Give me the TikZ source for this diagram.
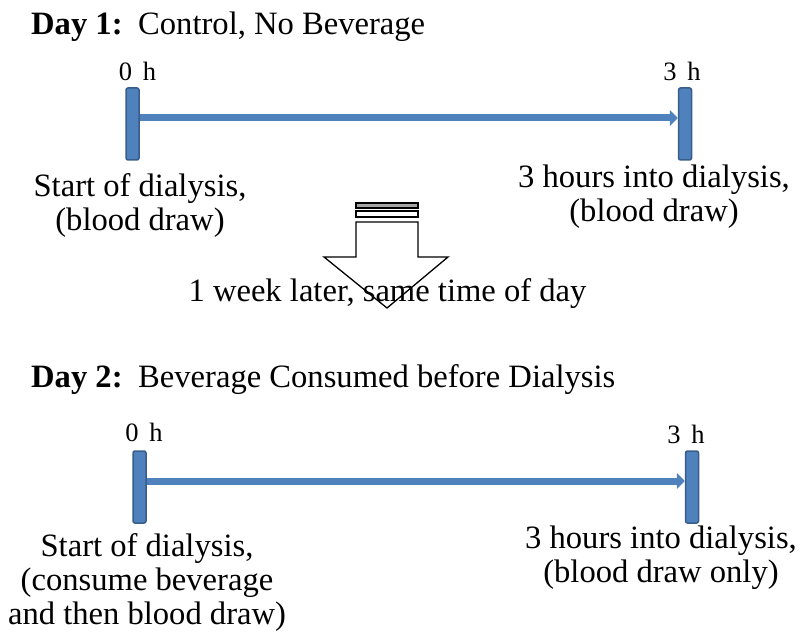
\documentclass[tikz,border=0pt]{standalone}
\usepackage{fontspec}
\setmainfont{Liberation Serif}
\usetikzlibrary{arrows.meta,positioning}
\definecolor{barblue}{RGB}{79,129,189}
\definecolor{bardark}{RGB}{56,93,138}

\tikzset{
  tick/.style={draw=bardark, fill=barblue, line width=1.5pt, rounded corners=2pt,
    minimum width=13pt, minimum height=72pt, inner sep=0pt},
  tline/.style={barblue, line width=7pt, -{Triangle[length=8pt,width=16pt]}},
  hlabel/.style={font=\fontsize{26.5}{30}\selectfont, inner sep=0pt},
  desc/.style={font=\fontsize{32.6}{34}\selectfont, align=center, inner sep=0pt},
  head/.style={font=\fontsize{32.6}{34}\selectfont, inner sep=0pt, anchor=base west},
}

\begin{document}
\begin{tikzpicture}[x=1pt,y=-1pt]
\useasboundingbox (0,0) rectangle (801,644);

% day 1
\node [head] (day1) at (31,35) {\textbf{Day 1:}};
\node [head] (what1) at (138,35) {Control, No Beverage};

\node [tick] (s1) at (132.5,124) {};
\node [tick] (e1) at (685,124) {};
\draw [tline] ([yshift=6pt]s1.east) -- ([yshift=6pt]e1.west);

\node [hlabel, above=6pt of s1, xshift=5pt] (h0a) {0\hspace{0.4em}h};
\node [hlabel, above=6pt of e1, xshift=-3pt] (h3a) {3\hspace{0.4em}h};
\node [desc, below=12.7pt of s1, xshift=7.5pt] (d0a) {Start of dialysis,\\(blood draw)};
\node [desc, below=3.7pt of e1, xshift=-31pt] (d3a) {3 hours into dialysis,\\(blood draw)};

% week arrow
\filldraw [fill=gray!70, line width=1.3pt] (356,203) rectangle (418,208);
\filldraw [fill=white, line width=1.3pt] (356,211) rectangle (418,217);
\filldraw [fill=white, line width=1.3pt, line join=miter]
  (356,222) -- (418,222) -- (418,257) -- (448,257) -- (387,308)
  -- (324,257) -- (356,257) -- cycle;
\node [head, anchor=base] (later) at (387.5,302) {1 week later, same time of day};

% day 2
\node [head] (day2) at (31,388) {\textbf{Day 2:}};
\node [head] (what2) at (138,388) {Beverage Consumed before Dialysis};

\node [tick] (s2) at (139.5,487) {};
\node [tick] (e2) at (692,487) {};
\draw [tline] ([yshift=6pt]s2.east) -- ([yshift=6pt]e2.west);

\node [hlabel, above=8pt of s2, xshift=4.5pt] (h0b) {0\hspace{0.4em}h};
\node [hlabel, above=6pt of e2, xshift=-6pt] (h3b) {3\hspace{0.4em}h};
\node [desc, below=9.7pt of s2, xshift=7.5pt] (d0b) {Start of dialysis,\\(consume beverage\\and then blood draw)};
\node [desc, below=1.7pt of e2, xshift=-31pt] (d3b) {3 hours into dialysis,\\(blood draw only)};
\end{tikzpicture}
\end{document}
